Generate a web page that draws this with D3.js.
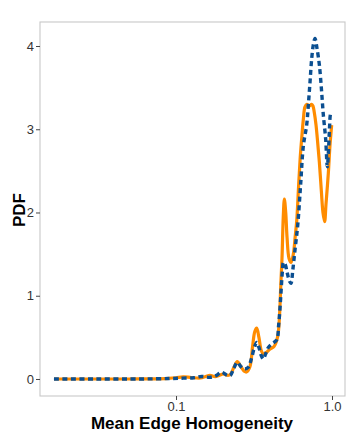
<!DOCTYPE html>
<html><head><meta charset="utf-8">
<script src="https://cdn.jsdelivr.net/npm/d3@7"></script>
<style>body{margin:0;background:#fff}svg{display:block}</style>
</head><body>
<svg id="c" width="356" height="440"></svg>
<script>
const orangeX = [0.0165,0.03,0.05,0.07,0.09,0.1,0.111,0.125,0.143,0.155,0.165,0.178,0.19,0.2,0.212,0.222,0.235,0.247,0.26,0.275,0.284,0.298,0.31,0.32,0.329,0.34,0.352,0.363,0.38,0.401,0.425,0.44,0.452,0.462,0.47,0.478,0.487,0.495,0.505,0.515,0.53,0.546,0.565,0.58,0.594,0.61,0.625,0.64,0.655,0.671,0.69,0.715,0.74,0.755,0.77,0.79,0.805,0.83,0.855,0.875,0.897,0.915,0.947,0.97,0.995];
const orangeY = [0,0,0,0.002,0.008,0.015,0.025,0.018,0.012,0.03,0.045,0.028,0.045,0.06,0.045,0.05,0.14,0.21,0.15,0.09,0.085,0.15,0.4,0.57,0.61,0.5,0.34,0.3,0.32,0.36,0.39,0.45,0.55,0.8,1.15,1.45,1.95,2.16,2.0,1.7,1.45,1.4,1.5,1.7,1.9,2.3,2.65,2.9,3.12,3.27,3.3,3.28,3.3,3.28,3.2,3.05,2.89,2.6,2.25,2.0,1.89,2.1,2.47,2.8,3.05];
const blueX = [0.0165,0.03,0.06,0.09,0.111,0.13,0.146,0.165,0.18,0.196,0.21,0.222,0.235,0.247,0.26,0.275,0.29,0.305,0.318,0.329,0.34,0.352,0.363,0.375,0.391,0.41,0.442,0.455,0.464,0.472,0.481,0.488,0.5,0.517,0.535,0.546,0.56,0.579,0.603,0.63,0.655,0.688,0.705,0.723,0.741,0.76,0.778,0.8,0.83,0.858,0.88,0.91,0.933,0.95,0.963,0.98,0.995];
const blueY = [0,0,0,0.005,0.01,0.015,0.03,0.02,0.04,0.08,0.05,0.04,0.13,0.2,0.15,0.12,0.14,0.25,0.38,0.44,0.38,0.28,0.24,0.3,0.38,0.42,0.47,0.65,0.85,1.07,1.3,1.4,1.38,1.27,1.17,1.15,1.3,1.55,1.85,2.35,2.8,3.05,3.29,3.57,3.85,4.02,4.09,3.98,3.77,3.45,3.17,2.89,2.55,2.75,3.0,3.19,3.21];
const xTicks = [0.1, 1.0];
const xTickLabels = ["0.1", "1.0"];
const yTicks = [0, 1, 2, 3, 4];

const svg = d3.select("#c");
const L = 40, R = 345, T = 22, B = 396;
const x = d3.scaleLog().domain([Math.pow(10,-1.872), Math.pow(10,0.0833)]).range([L, R]);
const y = d3.scaleLinear().domain([-0.2045, 4.2885]).range([B, T]);

svg.append("rect").attr("x", L).attr("y", T).attr("width", R-L).attr("height", B-T)
  .attr("fill", "#fff").attr("stroke", "#c8c8c8").attr("stroke-width", 1.1);

svg.append("clipPath").attr("id","cp").append("rect")
  .attr("x", L).attr("y", T).attr("width", R-L).attr("height", B-T);

const xAxis = d3.axisBottom(x).tickValues(xTicks).tickFormat((d,i)=>xTickLabels[i]).tickSize(4).tickPadding(1.5);
const gx = svg.append("g").attr("transform", `translate(0,${B})`).call(xAxis);
const yAxis = d3.axisLeft(y).tickValues(yTicks).tickFormat(d3.format("d")).tickSize(4).tickPadding(2);
const gy = svg.append("g").attr("transform", `translate(${L},0)`).call(yAxis);
[gx, gy].forEach(g => {
  g.select(".domain").remove();
  g.selectAll(".tick line").attr("stroke", "#444").attr("stroke-width", 1);
  g.selectAll(".tick text").attr("fill", "#333").style("font-family", "Liberation Sans, Arial, sans-serif").style("font-size", "13px");
});

const line = d3.line().x(d => x(d[0])).y(d => y(d[1])).curve(d3.curveCatmullRom.alpha(0.5));
const orange = orangeX.map((v,i)=>[v, orangeY[i]]);
const blue = blueX.map((v,i)=>[v, blueY[i]]);

const plot = svg.append("g").attr("clip-path","url(#cp)");
plot.append("path").datum(orange).attr("d", line).attr("fill","none")
  .attr("stroke", "#FF8C00").attr("stroke-width", 3.2).attr("stroke-linejoin","round");
plot.append("path").datum(blue).attr("d", line).attr("fill","none")
  .attr("stroke", "#0B4F91").attr("stroke-width", 3.4).attr("stroke-dasharray", "5,3.5");

svg.append("text").attr("x", 192).attr("y", 429).attr("text-anchor","middle")
  .style("font-family","Liberation Sans, Arial, sans-serif").style("font-weight","bold").style("font-size","17px")
  .attr("fill","#000").text("Mean Edge Homogeneity");
svg.append("text").attr("transform","translate(25,210) rotate(-90)").attr("text-anchor","middle")
  .style("font-family","Liberation Sans, Arial, sans-serif").style("font-weight","bold").style("font-size","17px")
  .attr("fill","#000").text("PDF");
</script>
</body></html>
